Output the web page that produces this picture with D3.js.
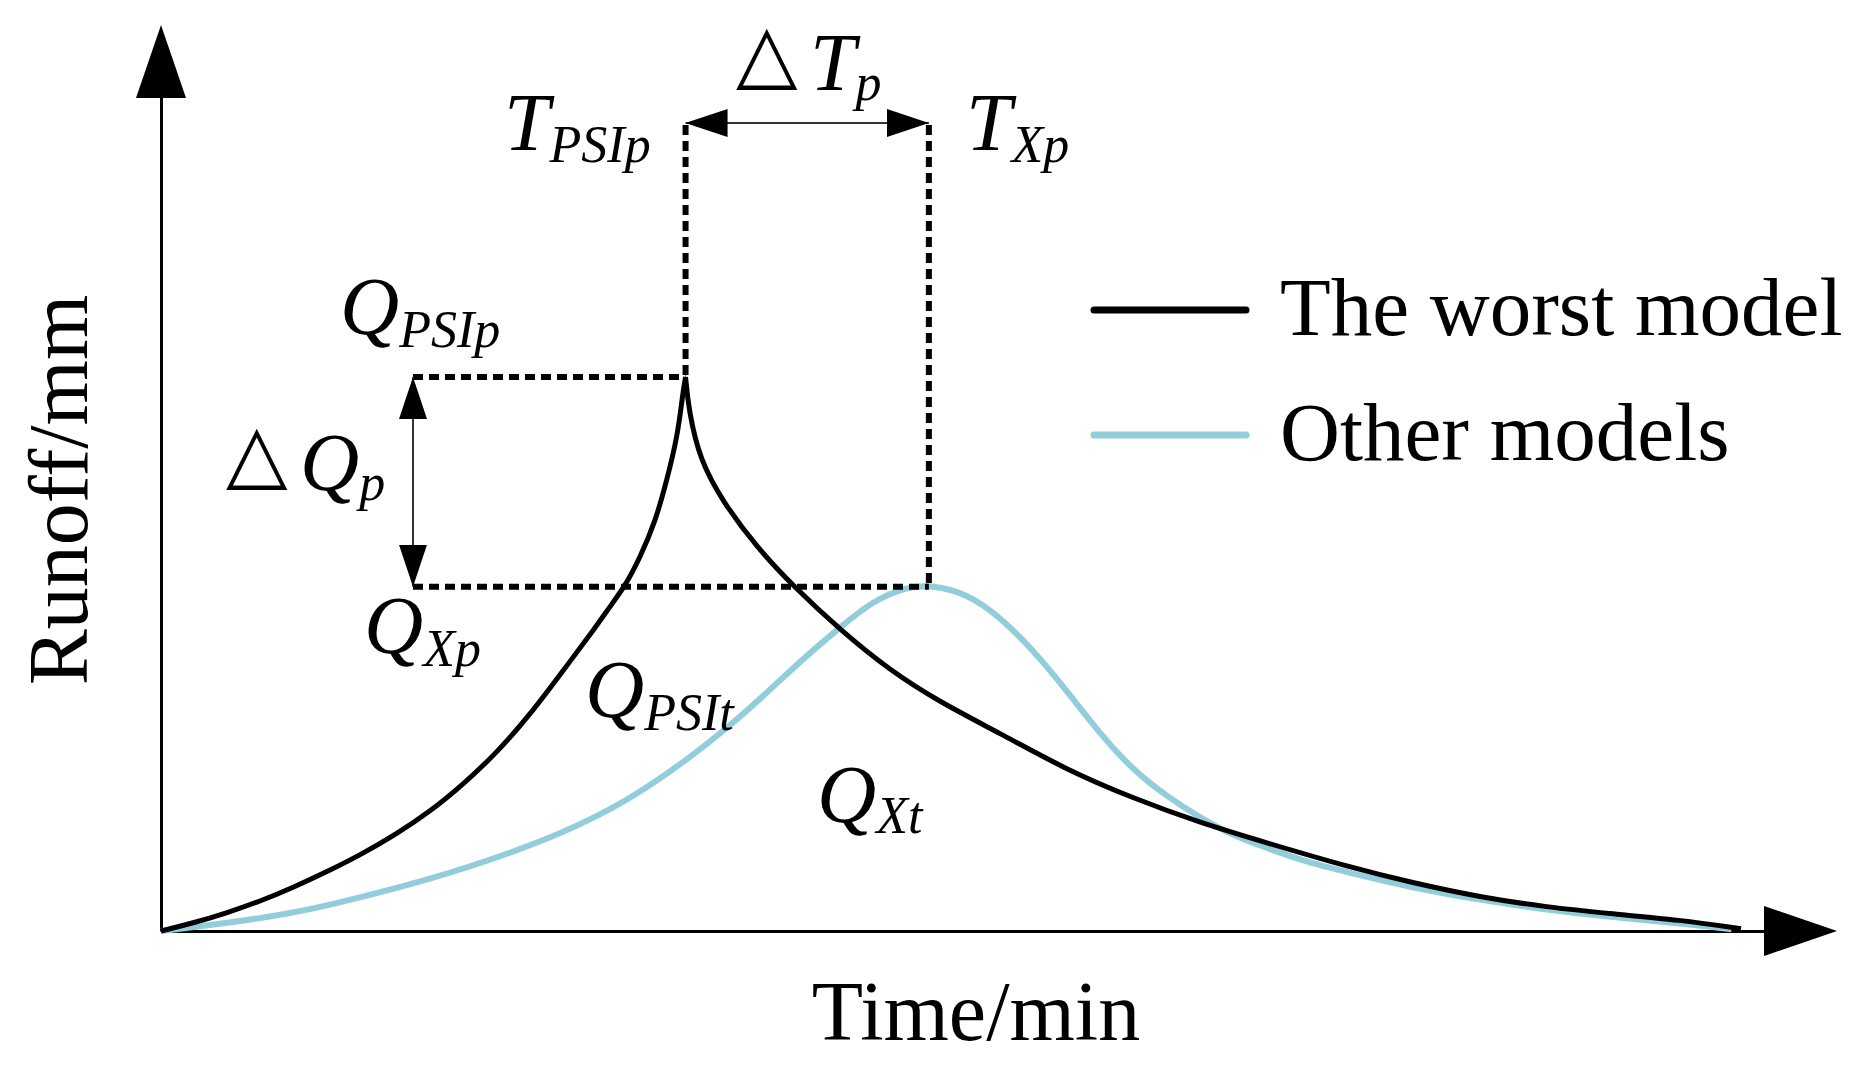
<!DOCTYPE html>
<html lang="en">

<head>
    <meta charset="UTF-8">
    <title>Runoff hydrograph</title>
    <script src="https://d3js.org/d3.v7.min.js"></script>
    <style type="text/css">
        body {
            margin: 0;
            background: #fff;
        }

        text {
            font-family: 'Liberation Serif', 'Times New Roman', serif;
            fill: #000;
        }
    </style>
</head>

<body>
    <div id="chartArea"></div>
    <script type="text/javascript">
        // worst model (black) - sharp peak
        var worstT = [0, 2.0, 4.2, 6.3, 8.4, 10.5, 12.6, 14.9, 17.0, 19.1, 21.3, 23.4, 25.4, 27.6, 28.4, 29.4, 30.3, 31.3, 32.0, 32.7, 33.0, 33.2,
            33.4, 34.1, 35.6, 37.7, 40.0, 43.0, 46.1, 49.3, 53.1, 57.3, 61.5, 65.8, 70.0, 75.1, 79.2, 83.5, 87.7, 91.9, 96.1, 100];
        var worstQ = [0, 1.4, 3.3, 5.4, 7.9, 10.7, 13.7, 17.5, 21.5, 26.4, 32.3, 39.2, 46.8, 55.2, 58.5, 62.4, 67.3, 74.0, 81.2, 89.4, 96.6, 100,
            94.0, 85.0, 77.3, 69.3, 62.3, 54.3, 47.1, 41.3, 35.7, 29.1, 24.0, 19.5, 15.9, 11.6, 8.7, 6.1, 4.3, 3.1, 2.0, 0.4];

        // other models (blue) - smooth peak
        var otherT = [0, 4.2, 8.4, 10.7, 17.0, 23.4, 29.7, 36.6, 39.8, 43.0, 45.1, 47.2, 48.6,
            51.0, 53.1, 55.2, 57.3, 59.4, 61.5, 63.7, 65.8, 67.8, 70.0, 72.1, 75.1, 79.2, 83.5, 87.7, 91.9, 96.1, 99.4];
        var otherQ = [0, 1.4, 3.3, 4.7, 9.2, 15.2, 23.1, 38.1, 47.1, 54.9, 59.7, 62.1, 62.5,
            61.0, 56.7, 50.7, 43.5, 35.7, 29.1, 24.2, 20.4, 17.3, 15.0, 12.8, 10.6, 7.8, 5.6, 3.8, 2.5, 1.4, 0.3];

        var seriesNames = ['The worst model', 'Other models'];
        var seriesColors = ['#000000', '#92cddc'];
        var xTitle = 'Time/min', yTitle = 'Runoff/mm';

        var W = 1863, H = 1070;
        var x0 = 161, y0 = 931;

        var svg = d3.select('#chartArea').append('svg')
            .attr('width', W)
            .attr('height', H);

        var xScale = d3.scaleLinear().domain([0, 100]).range([x0, 1741]);
        var yScale = d3.scaleLinear().domain([0, 100]).range([y0, 377]);

        // axes: bare lines with arrowheads
        var xAxisScale = d3.scaleLinear().range([x0, 1766]);
        var yAxisScale = d3.scaleLinear().range([y0, 96]);
        svg.append('g')
            .attr('transform', 'translate(0,' + y0 + ')')
            .call(d3.axisBottom(xAxisScale).tickValues([]).tickSizeOuter(0))
            .select('.domain').attr('stroke', '#000').attr('stroke-width', 3);
        svg.append('g')
            .attr('transform', 'translate(' + x0 + ',0)')
            .call(d3.axisLeft(yAxisScale).tickValues([]).tickSizeOuter(0))
            .select('.domain').attr('stroke', '#000').attr('stroke-width', 3);

        svg.append('path')
            .attr('d', 'M1764,906L1837,' + y0 + 'L1764,956Z')
            .attr('fill', '#000');
        svg.append('path')
            .attr('d', 'M136,98L' + x0 + ',25L186,98Z')
            .attr('fill', '#000');

        // curves
        var line = d3.line()
            .x(function (d) { return xScale(d[0]); })
            .y(function (d) { return yScale(d[1]); })
            .curve(d3.curveBasis);

        var worst = d3.zip(worstT, worstQ);
        var other = d3.zip(otherT, otherQ);
        var iPeak = d3.maxIndex(worstQ);
        var jPeak = d3.maxIndex(otherQ);

        svg.append('path')
            .attr('d', line(other))
            .attr('fill', 'none')
            .attr('stroke', seriesColors[1])
            .attr('stroke-width', 6);

        [worst.slice(0, iPeak + 1), worst.slice(iPeak)].forEach(function (seg) {
            svg.append('path')
                .attr('d', line(seg))
                .attr('fill', 'none')
                .attr('stroke', seriesColors[0])
                .attr('stroke-width', 5)
                .attr('stroke-linejoin', 'round');
        });

        // dashed guides
        var px1 = xScale(worstT[iPeak]), py1 = yScale(worstQ[iPeak]);
        var px2 = xScale(otherT[jPeak]), py2 = yScale(otherQ[jPeak]) + 2;
        var guideX = 413, guideTop = 125;
        var guides = [
            [px1, guideTop, px1, py1],
            [px2, guideTop, px2, py2],
            [guideX, py1, px1, py1],
            [guideX, py2, px2, py2]
        ];
        svg.selectAll('line.guide')
            .data(guides)
            .enter()
            .append('line')
            .attr('class', 'guide')
            .attr('x1', function (d) { return d[0]; })
            .attr('y1', function (d) { return d[1]; })
            .attr('x2', function (d) { return d[2]; })
            .attr('y2', function (d) { return d[3]; })
            .attr('stroke', '#000')
            .attr('stroke-width', 6)
            .attr('stroke-dasharray', '10,6');

        // double arrows
        svg.append('defs').append('marker')
            .attr('id', 'head')
            .attr('viewBox', '0 0 42 28')
            .attr('refX', 42)
            .attr('refY', 14)
            .attr('markerWidth', 42)
            .attr('markerHeight', 28)
            .attr('markerUnits', 'userSpaceOnUse')
            .attr('orient', 'auto-start-reverse')
            .append('path')
            .attr('d', 'M0,0L42,14L0,28Z')
            .attr('fill', '#000');

        svg.append('line')
            .attr('x1', px1).attr('y1', 123).attr('x2', px2).attr('y2', 123)
            .attr('stroke', '#333').attr('stroke-width', 2)
            .attr('marker-start', 'url(#head)').attr('marker-end', 'url(#head)');
        svg.append('line')
            .attr('x1', guideX).attr('y1', py1).attr('x2', guideX).attr('y2', py2)
            .attr('stroke', '#333').attr('stroke-width', 2)
            .attr('marker-start', 'url(#head)').attr('marker-end', 'url(#head)');

        // symbol labels: italic letter + flowing subscript
        function symLabel(main, sub, x, y, dy, tri) {
            if (tri) {
                svg.append('text')
                    .attr('x', tri).attr('y', y - 10)
                    .style('font-family', "'DejaVu Sans', sans-serif")
                    .attr('font-size', 80)
                    .text('△');
            }
            var t = svg.append('text')
                .attr('x', x).attr('y', y)
                .attr('font-size', 82)
                .attr('font-style', 'italic');
            t.append('tspan').text(main);
            t.append('tspan').attr('dy', dy).attr('font-size', 52).text(sub);
        }
        symLabel('T', 'PSIp', 504, 150, 12);
        symLabel('T', 'Xp', 966, 150, 12);
        symLabel('T', 'p', 810, 90, 10, 736);
        symLabel('Q', 'PSIp', 340, 334, 13);
        symLabel('Q', 'p', 300, 490, 10, 226);
        symLabel('Q', 'Xp', 364, 653, 13);
        symLabel('Q', 'PSIt', 585, 717, 13);
        symLabel('Q', 'Xt', 817, 822, 11);

        // legend
        var legend = svg.append('g');
        [310, 435].forEach(function (ly, i) {
            legend.append('line')
                .attr('x1', 1094).attr('x2', 1246)
                .attr('y1', ly).attr('y2', ly)
                .attr('stroke', seriesColors[i])
                .attr('stroke-width', 7)
                .attr('stroke-linecap', 'round');
            legend.append('text')
                .attr('x', 1280).attr('y', ly + 25)
                .attr('font-size', 83)
                .text(seriesNames[i]);
        });

        // axis titles
        svg.append('text')
            .attr('x', 976).attr('y', 1040)
            .attr('text-anchor', 'middle')
            .attr('font-size', 84)
            .text(xTitle);
        svg.append('text')
            .attr('transform', 'translate(87,490) rotate(-90)')
            .attr('text-anchor', 'middle')
            .attr('font-size', 84)
            .text(yTitle);
    </script>
</body>

</html>
